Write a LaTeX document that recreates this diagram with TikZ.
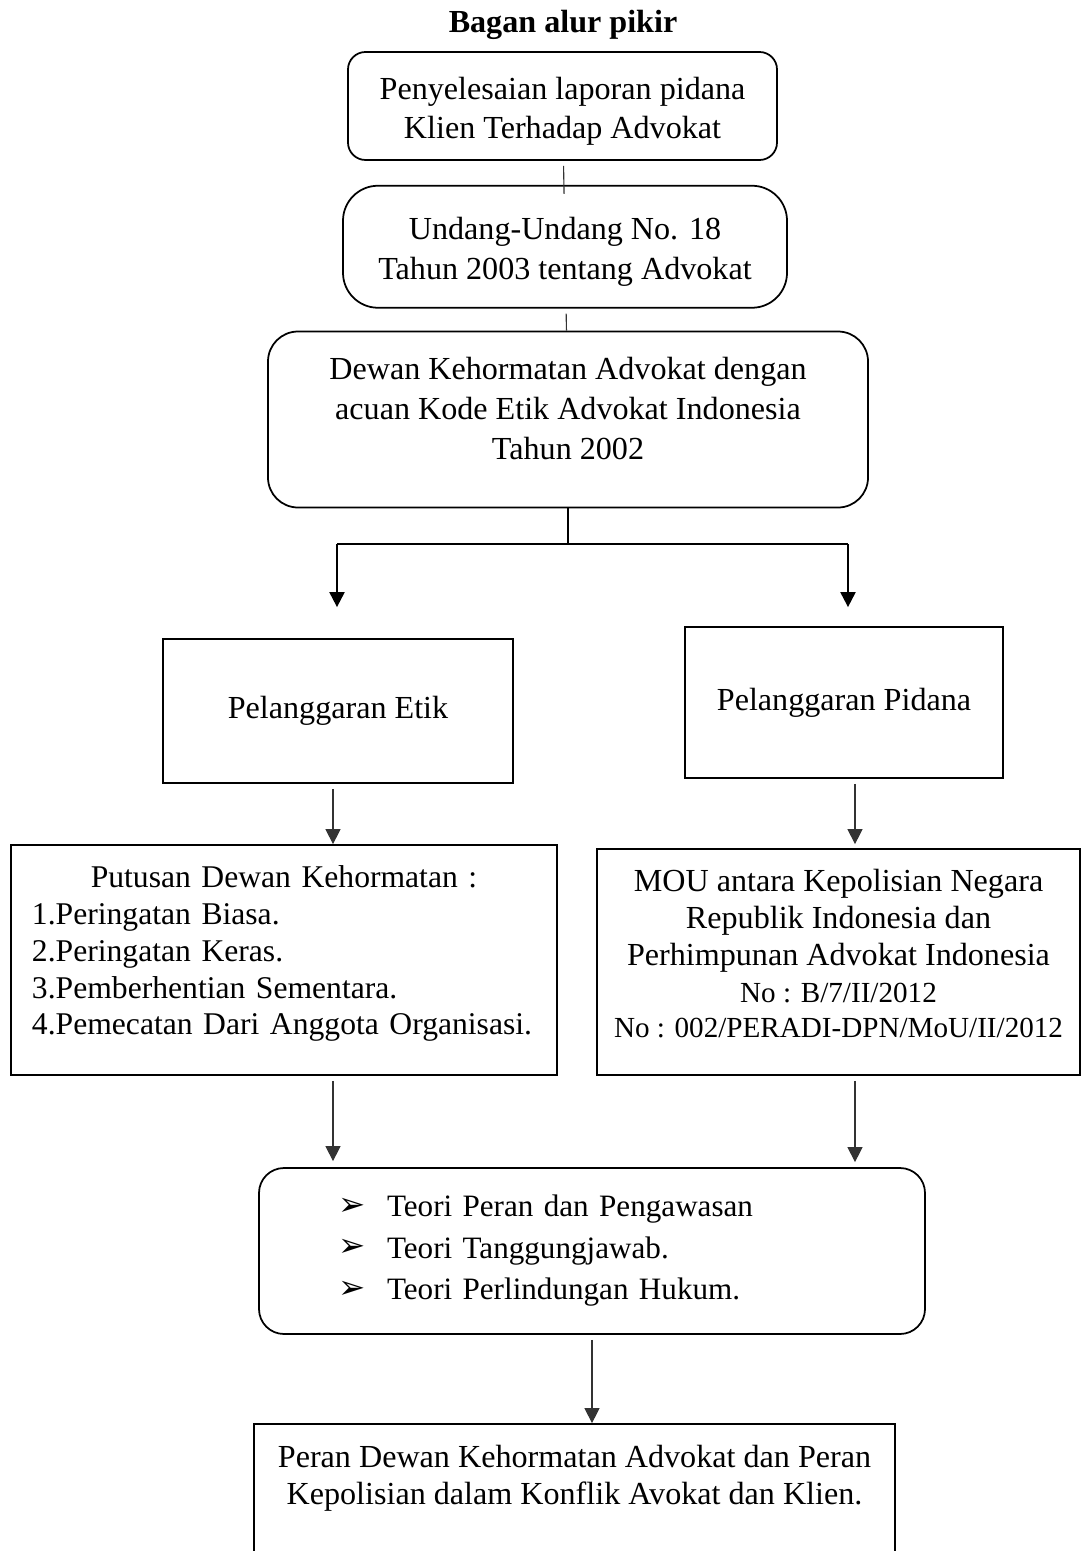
\documentclass[tikz,border=0pt]{standalone}
\usepackage{fontspec}
\setmainfont{Liberation Serif}
\newfontfamily\dingfont{DejaVu Sans}
\usetikzlibrary{positioning,arrows.meta}

\newcommand{\teoribullet}{\makebox[19.6pt][l]{\raisebox{0.6pt}{\dingfont\fontsize{13}{13}\selectfont ➢}}}

\begin{document}
\begin{tikzpicture}[
  x=0.4pt, y=-0.4pt,
  font=\fontsize{12.85}{16}\selectfont,
  box/.style={draw, line width=0.7pt, align=center, inner sep=0pt},
  rbox/.style={box, rounded corners=#1},
  link/.style={black!80, line width=0.45pt},
  arr/.style={-{Triangle[length=6pt,width=6pt]}, black!80, line width=0.45pt, shorten <=2pt},
  splitarr/.style={-{Triangle[length=6pt,width=6pt]}, black, line width=0.8pt},
]
\useasboundingbox (0,0) rectangle (1083,1551);
\clip (0,0) rectangle (1083,1551);

\node[font=\bfseries\fontsize{12.85}{15}\selectfont] (T) at (563,25) {Bagan alur pikir};
\node[rbox=7pt, minimum width=171.6pt, minimum height=43.2pt,
      font=\fontsize{12.85}{15.6}\selectfont] (A) at (562.5,106)
      {\rule{0pt}{12.8pt}Penyelesaian laporan pidana\\Klien Terhadap Advokat};
\node[rbox=14pt, minimum width=177.6pt, minimum height=48.8pt, below=9.6pt of A, xshift=1pt]
      (B) {\rule{0pt}{12.8pt}Undang-Undang No. 18\\Tahun 2003 tentang Advokat};
\node[rbox=12pt, minimum width=240pt, minimum height=70.4pt, below=8.8pt of B, xshift=1.2pt]
      (C) {Dewan Kehormatan Advokat dengan\\acuan Kode Etik Advokat Indonesia\\
           Tahun 2002\rule[-8.8pt]{0pt}{8.8pt}};

\node[box, minimum width=140pt, minimum height=57.6pt] (D) at (338,711) {Pelanggaran Etik};
\node[box, minimum width=127.2pt, minimum height=60.4pt] (E) at (844,702.5) {Pelanggaran Pidana};

\node[box, minimum width=218.4pt, minimum height=92pt, align=left, text width=201.6pt,
      font=\fontsize{12.65}{14.7}\selectfont] (F) at (284,960)
      {\hfill Putusan Dewan Kehormatan :\hfill\null\\
       1.Peringatan Biasa.\\
       2.Peringatan Keras.\\
       3.Pemberhentian Sementara.\\
       \mbox{4.Pemecatan Dari Anggota Organisasi.}\rule[-7.6pt]{0pt}{7.6pt}};
\node[box, minimum width=193.2pt, minimum height=90.4pt,
      font=\fontsize{12.85}{14.8}\selectfont] (G) at (838.5,962)
      {MOU antara Kepolisian Negara\\
       Republik Indonesia dan\\
       Perhimpunan Advokat Indonesia\\
       \fontsize{11.65}{14.8}\selectfont No : B/7/II/2012\\[-0.8pt]
       \fontsize{11.65}{14.8}\selectfont No : 002/PERADI-DPN/MoU/II/2012\rule[-7.2pt]{0pt}{7.2pt}};

\node[rbox=10pt, minimum width=266.4pt, minimum height=66.4pt, align=left, text width=203.2pt,
      font=\fontsize{12.45}{16.6}\selectfont] (H) at (592,1251)
      {\teoribullet Teori Peran dan Pengawasan\\
       \teoribullet Teori Tanggungjawab.\\
       \teoribullet Teori Perlindungan Hukum.};
\node[box, minimum width=256.4pt, minimum height=55.2pt,
      font=\fontsize{12.85}{14.8}\selectfont] (I) at (574.5,1493)
      {Peran Dewan Kehormatan Advokat dan Peran\\
       Kepolisian dalam Konflik Avokat dan Klien.\\ ~};

% connectors
\draw[link, shorten <=2pt, shorten >=-3.6pt] (A) -- (B);
\draw[link, shorten <=2pt] (B) -- (C);
\coordinate (fork) at (566,544);
\coordinate (forkL) at (337,544);
\coordinate (forkR) at (848,544);
\draw[line width=0.8pt] (C.south) -- (C.south |- fork);
\draw[line width=0.8pt] (forkL) -- (forkR);
\draw[splitarr, shorten >=12.4pt] (forkL) -- (forkL |- D.north);
\draw[splitarr, shorten >=7.6pt] (forkR) -- (forkR |- E.north);

\coordinate (colL) at (333,0);
\coordinate (colR) at (855,0);
\draw[arr] (D.south -| colL) -- (F.north -| colL);
\draw[arr, shorten >=1.6pt] (E.south -| colR) -- (G.north -| colR);
\draw[arr, shorten >=2.4pt] (F.south -| colL) -- (H.north -| colL);
\draw[arr, shorten >=2pt] (G.south -| colR) -- (H.north -| colR);
\draw[arr] (H.south) -- (H.south |- I.north);
\end{tikzpicture}
\end{document}
